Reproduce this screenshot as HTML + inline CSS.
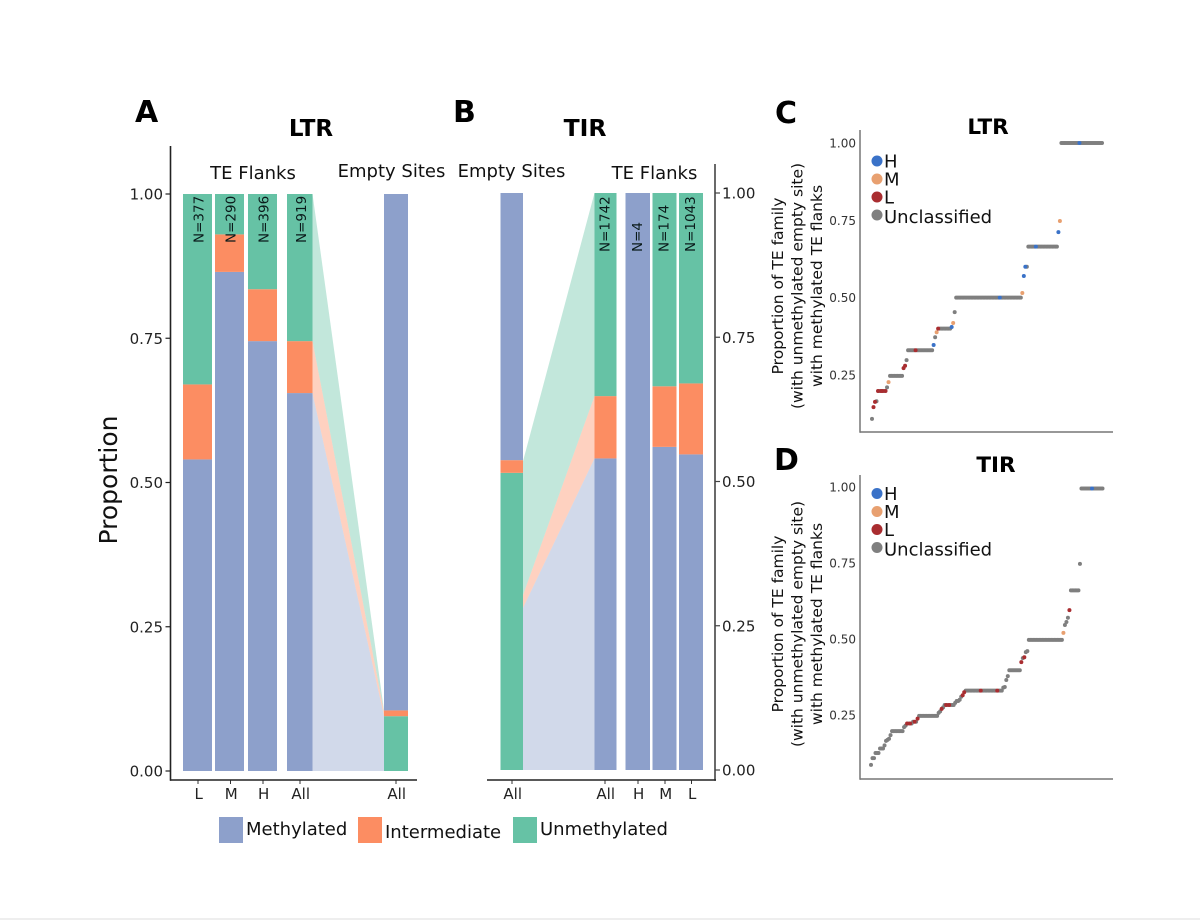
<!DOCTYPE html>
<html lang="en">
<head>
<meta charset="utf-8">
<title>TE flank and empty site methylation</title>
<style>
html,body{margin:0;padding:0;background:#fff;width:1200px;height:920px;overflow:hidden}
svg{display:block;font-family:"DejaVu Sans","Liberation Sans",sans-serif;fill:#111;filter:blur(0.35px)}
.bold{font-weight:700;fill:#000}
</style>
</head>
<body>
<svg id="figure" width="1200" height="920" viewBox="0 0 1200 920" xmlns="http://www.w3.org/2000/svg">
  <rect x="0" y="0" width="1200" height="920" fill="#fff"/>
  <rect x="0" y="918" width="1200" height="2" fill="#eeeeee"/>

  <text class="bold" x="135" y="122" font-size="30">A</text>
  <text class="bold" x="453" y="122" font-size="30">B</text>
  <text class="bold" x="775" y="123" font-size="30">C</text>
  <text class="bold" x="774" y="470" font-size="30">D</text>

  <text class="bold" x="311" y="136" font-size="23" text-anchor="middle">LTR</text>
  <text class="bold" x="585" y="136" font-size="23.500" text-anchor="middle">TIR</text>
  <text class="bold" x="988" y="134" font-size="21.500" text-anchor="middle">LTR</text>
  <text class="bold" x="996" y="472" font-size="21.500" text-anchor="middle">TIR</text>

  <text transform="translate(117,480) rotate(-90)" font-size="25" text-anchor="middle">Proportion</text>

  <text x="253" y="179" font-size="18" text-anchor="middle">TE Flanks</text>
  <text x="391.500" y="177" font-size="18" text-anchor="middle">Empty Sites</text>
  <text x="511.500" y="177" font-size="18" text-anchor="middle">Empty Sites</text>
  <text x="654.500" y="179" font-size="18" text-anchor="middle">TE Flanks</text>

  <g id="panelA"></g>
  <g id="panelB"></g>
  <g id="panelC"></g>
  <g id="panelD"></g>

  <g transform="translate(0,286) rotate(-90)" font-size="15.500" text-anchor="middle">
    <text x="0" y="783">Proportion of TE family</text>
    <text x="0" y="802.500">(with unmethylated empty site)</text>
    <text x="0" y="822">with methylated TE flanks</text>
  </g>
  <g transform="translate(0,624) rotate(-90)" font-size="15.500" text-anchor="middle">
    <text x="0" y="783">Proportion of TE family</text>
    <text x="0" y="802.500">(with unmethylated empty site)</text>
    <text x="0" y="822">with methylated TE flanks</text>
  </g>

  <g>
    <rect x="219" y="817" width="24" height="26" fill="#8DA0CB"/>
    <text x="246" y="835" font-size="18">Methylated</text>
    <rect x="358" y="817" width="24" height="26" fill="#FC8D62"/>
    <text x="385" y="838" font-size="18">Intermediate</text>
    <rect x="513" y="817" width="24" height="26" fill="#66C2A5"/>
    <text x="540" y="835" font-size="18">Unmethylated</text>
  </g>
</svg>

<script>
/* ---------- Stacked bar data: panel A (LTR) ---------- */
const aCategories = ["L", "M", "H", "All", "All"];
const aCounts = ["N=377", "N=290", "N=396", "N=919", ""];
const aMethylated = [0.54, 0.865, 0.745, 0.655, 0.895];
const aIntermediate = [0.13, 0.065, 0.09, 0.09, 0.01];
const aUnmethylated = [0.33, 0.07, 0.165, 0.255, 0.095];
const aRibbonEmptyEdges = [0, 0.095, 0.103, 0.105];

/* ---------- Stacked bar data: panel B (TIR) ---------- */
const bCategories = ["All", "All", "H", "M", "L"];
const bCounts = ["", "N=1742", "N=4", "N=174", "N=1043"];
const bMethylated = [0.463, 0.54, 1, 0.56, 0.547];
const bIntermediate = [0.022, 0.108, 0, 0.105, 0.123];
const bUnmethylated = [0.515, 0.352, 0, 0.335, 0.33];
const bRibbonEmptyEdges = [0, 0.281, 0.303, 0.535];

/* ---------- Shared tick labels ---------- */
const barTicks = [0, 0.25, 0.5, 0.75, 1];
const scatterTicks = [0.25, 0.5, 0.75, 1];

/* ---------- Scatter data: panel C (LTR), sorted family proportions ---------- */
const cValues = [
  0.108,0.146,0.163,0.165,
  0.198,0.198,0.198,0.198,0.198,0.198,
  0.21,0.227,
  0.247,0.247,0.247,0.247,0.247,0.247,0.247,0.247,0.247,
  0.272,0.28,0.298,
  0.33,0.33,0.33,0.33,0.33,0.33,0.33,0.33,0.33,0.33,0.33,0.33,0.33,0.33,0.33,0.33,0.33,
  0.347,0.372,0.388,
  0.4,0.4,0.4,0.4,0.4,0.4,0.4,0.4,0.4,
  0.405,0.418,0.453,
  0.5,0.5,0.5,0.5,0.5,0.5,0.5,0.5,0.5,0.5,0.5,0.5,0.5,0.5,0.5,0.5,0.5,0.5,0.5,0.5,0.5,0.5,
  0.5,0.5,0.5,0.5,0.5,0.5,0.5,0.5,0.5,0.5,0.5,0.5,0.5,0.5,0.5,0.5,0.5,0.5,0.5,0.5,0.5,0.5,
  0.515,0.57,0.6,0.6,
  0.665,0.665,0.665,0.665,0.665,0.665,0.665,0.665,0.665,0.665,
  0.665,0.665,0.665,0.665,0.665,0.665,0.665,0.665,0.665,0.665,
  0.712,0.748,
  1,1,1,1,1,1,1,1,1,1,1,1,1,1,1,1,1,1,1,1,1,1,1,1,1,1,1,1
];
const cHighRanks = [41,53,85,101,102,109,124,138];
const cMediumRanks = [11,22,43,54,100,125];
const cLowRanks = [1,2,4,6,7,9,21,22,29,44];

/* ---------- Scatter data: panel D (TIR), sorted family proportions ---------- */
const dValues = [
  0.086,0.108,0.108,0.125,0.125,0.125,0.14,0.14,0.14,0.15,
  0.165,0.168,0.172,0.184,
  0.197,0.197,0.197,0.197,0.197,0.197,0.197,0.197,
  0.21,0.215,0.222,0.222,0.222,0.222,0.228,0.228,0.228,0.238,
  0.247,0.247,0.247,0.247,0.247,0.247,0.247,0.247,0.247,0.247,0.247,0.247,0.247,
  0.257,0.262,0.27,0.275,
  0.283,0.283,0.283,0.283,0.283,0.283,0.283,
  0.29,0.296,0.296,0.3,0.31,0.315,0.325,0.33,
  0.33,0.33,0.33,0.33,0.33,0.33,0.33,0.33,0.33,0.33,0.33,0.33,
  0.33,0.33,0.33,0.33,0.33,0.33,0.33,0.33,0.33,0.33,0.33,0.33,
  0.34,0.342,0.365,0.378,
  0.397,0.397,0.397,0.397,0.397,0.397,0.397,0.397,
  0.424,0.437,0.44,0.457,0.46,
  0.497,0.497,0.497,0.497,0.497,0.497,0.497,0.497,0.497,0.497,0.497,0.497,
  0.497,0.497,0.497,0.497,0.497,0.497,0.497,0.497,0.497,0.497,0.497,
  0.52,0.546,0.556,0.57,0.595,
  0.66,0.66,0.66,0.66,0.66,0.66,0.747,
  0.995,0.995,0.995,0.995,0.995,0.995,0.995,0.995,0.995,0.995,0.995,0.995,0.995,0.995,0.995
];
const dHighRanks = [147];
const dMediumRanks = [128];
const dLowRanks = [24,26,29,31,47,50,52,61,62,73,84,100,102,132];

/* ---------- Axis functions ---------- */
const yA = v => 771 - 577 * v;
const yB = v => 770 - 577 * v;
const yC = v => 143 + (1 - v) * 309.3;
const yD = v => 487 + (1 - v) * 304;
const xRankC = r => 872 + r * (230 / (cValues.length - 1));
const xRankD = r => 871 + r * (231.5 / (dValues.length - 1));

/* Horizontal band layout (not data) */
const bandA = { left: [183, 215, 248, 287, 384], width: [29, 29, 29, 25.5, 24], tick: [198, 230.5, 263, 300, 396] };
const bandB = { left: [500.5, 594.5, 625.5, 652.5, 679], width: [22.5, 22, 24.5, 24, 24], tick: [512, 605, 638, 665, 691.5] };

const COLORS = { m: "#8DA0CB", i: "#FC8D62", u: "#66C2A5" };
const DOT = { H: "#3A72C8", M: "#E8A070", L: "#A92D30", U: "#7F7F7F" };
const NS = "http://www.w3.org/2000/svg";

function make(tag, attrs, parent) {
  const node = document.createElementNS(NS, tag);
  for (const k in attrs) node.setAttribute(k, attrs[k]);
  parent.appendChild(node);
  return node;
}

function drawStackedPanel(cfg) {
  const g = document.getElementById(cfg.id);
  const y = cfg.y;

  /* ribbons between the "All" flanks bar and the empty sites bar */
  const srcCum = [0, cfg.m[cfg.flankIdx], cfg.m[cfg.flankIdx] + cfg.i[cfg.flankIdx], 1];
  const ribbonColors = [COLORS.m, COLORS.i, COLORS.u];
  const ribbonNames = ["methylated", "intermediate", "unmethylated"];
  const fl = cfg.band.left[cfg.flankIdx], fw = cfg.band.width[cfg.flankIdx];
  const el = cfg.band.left[cfg.emptyIdx], ew = cfg.band.width[cfg.emptyIdx];
  const fx = cfg.flankIdx < cfg.emptyIdx ? fl + fw : fl;
  const ex = cfg.flankIdx < cfg.emptyIdx ? el : el + ew;
  for (let s = 0; s < 3; s++) {
    const pts = [
      [fx, y(srcCum[s])], [fx, y(srcCum[s + 1])],
      [ex, y(cfg.edges[s + 1])], [ex, y(cfg.edges[s])]
    ].map(p => p.join(",")).join(" ");
    const ribbon = make("polygon", { points: pts, fill: ribbonColors[s], "fill-opacity": 0.4 }, g);
    
    
  }

  /* bars */
  cfg.cats.forEach((cat, idx) => {
    const isEmpty = idx === cfg.emptyIdx;
    const order = isEmpty
      ? [[cfg.u[idx], COLORS.u, "unmethylated"], [cfg.i[idx], COLORS.i, "intermediate"], [cfg.m[idx], COLORS.m, "methylated"]]
      : [[cfg.m[idx], COLORS.m, "methylated"], [cfg.i[idx], COLORS.i, "intermediate"], [cfg.u[idx], COLORS.u, "unmethylated"]];
    let cum = 0;
    order.forEach(seg => {
      if (seg[0] <= 0) return;
      const top = y(cum + seg[0]), bot = y(cum);
      const rect = make("rect", { x: cfg.band.left[idx], y: top, width: cfg.band.width[idx], height: bot - top, fill: seg[1] }, g);
      
      
      cum += seg[0];
    });
    if (cfg.counts[idx]) {
      const cx = cfg.band.left[idx] + cfg.band.width[idx] / 2;
      const label = make("text", { transform: "translate(" + (cx + cfg.countShift) + "," + cfg.countBase + ") rotate(-90)", "font-size": 13.5, fill: "#0a1a1a" }, g);
      label.textContent = cfg.counts[idx];
      
      
    }
    /* x tick + label */
    const tx = cfg.band.tick[idx];
    const tick = make("line", { x1: tx, x2: tx, y1: 780, y2: 784, stroke: "#333", "stroke-width": 1 }, g);
    
    
    const xl = make("text", { x: tx + 0.7, y: 799, "font-size": 15, "text-anchor": "middle", fill: "#222" }, g);
    xl.textContent = cat;
    
    
  });

  /* axes */
  const ya = make("line", { x1: cfg.axisX, x2: cfg.axisX, y1: cfg.axisTop, y2: 780.7, stroke: cfg.axisColor, "stroke-width": 1.6 }, g);
  
  
  const xa = make("line", { x1: cfg.xFrom, x2: cfg.xTo, y1: 780, y2: 780, stroke: "#222", "stroke-width": 1.6 }, g);
  
  

  barTicks.forEach(v => {
    const t = make("line", { x1: cfg.axisX, x2: cfg.axisX + cfg.tickDir * 5, y1: y(v), y2: y(v), stroke: cfg.axisColor, "stroke-width": 1.2 }, g);
    
    
    const lab = make("text", { x: cfg.labelX, y: y(v) + 5.5, "font-size": 15, "text-anchor": cfg.labelAnchor, fill: "#222" }, g);
    lab.textContent = v.toFixed(2);
    
    
  });
}

function drawScatterPanel(cfg) {
  const g = document.getElementById(cfg.id);

  const ya = make("line", { x1: 860, x2: 860, y1: cfg.top, y2: cfg.bottom + 0.7, stroke: "#777", "stroke-width": 1.5 }, g);
  
  
  const xa = make("line", { x1: 860, x2: 1113, y1: cfg.bottom, y2: cfg.bottom, stroke: "#777", "stroke-width": 1.5 }, g);
  
  

  scatterTicks.forEach(v => {
    const lab = make("text", { x: 856, y: cfg.y(v) + 4.5, "font-size": 12, "text-anchor": "end", fill: "#333" }, g);
    lab.textContent = v.toFixed(2);
    
    
  });

  const classOf = r => cfg.high.includes(r) ? "H" : cfg.low.includes(r) ? "L" : cfg.med.includes(r) ? "M" : "U";
  /* unclassified first so coloured points sit on top */
  const ranks = cfg.values.map((_, r) => r);
  ranks.sort((a, b) => (classOf(a) === "U" ? 0 : 1) - (classOf(b) === "U" ? 0 : 1));
  ranks.forEach(r => {
    const c = classOf(r);
    const dot = make("circle", { cx: cfg.x(r), cy: cfg.y(cfg.values[r]), r: 2, fill: DOT[c] }, g);
    
    
  });

  const legendLabels = ["H", "M", "L", "Unclassified"];
  const legendKeys = ["H", "M", "L", "U"];
  legendLabels.forEach((txt, i) => {
    const cy = cfg.legendY + i * 18;
    const d = make("circle", { cx: 877, cy: cy, r: 5.5, fill: DOT[legendKeys[i]] }, g);
    
    
    const t = make("text", { x: 884, y: cy + 6.5 + (i === 3 ? 1.5 : 0), "font-size": 18, fill: "#111" }, g);
    t.textContent = txt;
    
    
  });
}

drawStackedPanel({
  id: "panelA", cats: aCategories, counts: aCounts, m: aMethylated, i: aIntermediate, u: aUnmethylated,
  edges: aRibbonEmptyEdges, flankIdx: 3, emptyIdx: 4, band: bandA, y: yA, countBase: 243, countShift: 6,
  axisX: 170.5, axisTop: 146, axisColor: "#222", xFrom: 170, xTo: 417, tickDir: -1, labelX: 163, labelAnchor: "end"
});
drawStackedPanel({
  id: "panelB", cats: bCategories, counts: bCounts, m: bMethylated, i: bIntermediate, u: bUnmethylated,
  edges: bRibbonEmptyEdges, flankIdx: 1, emptyIdx: 0, band: bandB, y: yB, countBase: 252, countShift: 4,
  axisX: 715, axisTop: 164, axisColor: "#444", xFrom: 487, xTo: 716, tickDir: 1, labelX: 722, labelAnchor: "start"
});
drawScatterPanel({
  id: "panelC", values: cValues, high: cHighRanks, med: cMediumRanks, low: cLowRanks,
  x: xRankC, y: yC, top: 130, bottom: 432, legendY: 161
});
drawScatterPanel({
  id: "panelD", values: dValues, high: dHighRanks, med: dMediumRanks, low: dLowRanks,
  x: xRankD, y: yD, top: 475, bottom: 779, legendY: 493.500
});
</script>
</body>
</html>
